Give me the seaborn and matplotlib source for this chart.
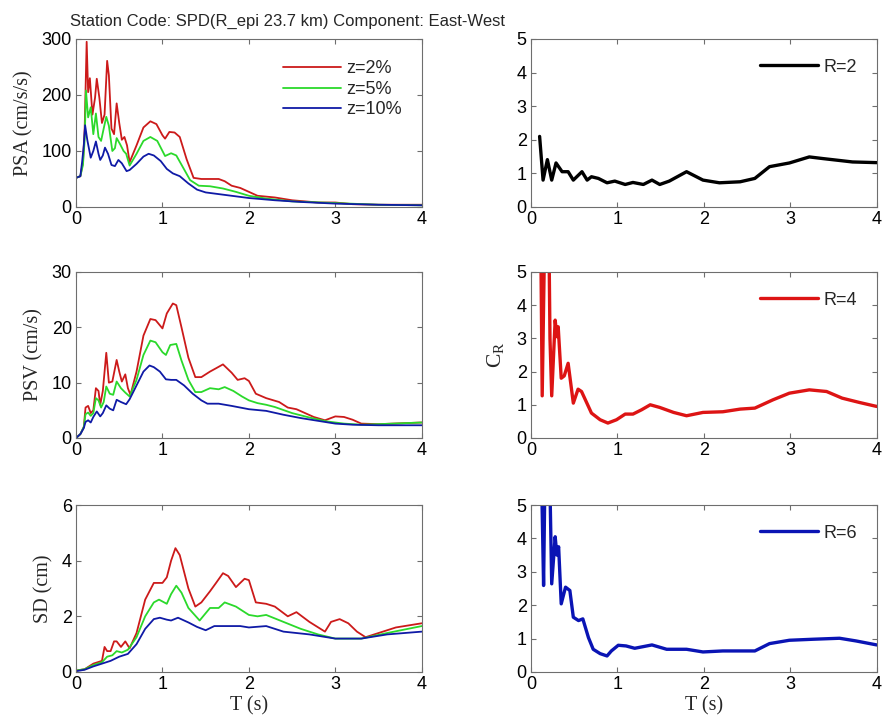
import numpy as np
import pandas as pd
import matplotlib
matplotlib.use('Agg')
import matplotlib.pyplot as plt
import seaborn as sns

# ---- data ----
# PSA (cm/s/s)
psa2_t = [0, 0.05, 0.08, 0.10, 0.123, 0.14, 0.16, 0.19, 0.22, 0.24, 0.27, 0.30, 0.33, 0.36, 0.38, 0.41, 0.44, 0.47, 0.50, 0.53,
          0.56, 0.59, 0.62, 0.70, 0.78, 0.86, 0.93, 1.00, 1.03, 1.08, 1.14, 1.20, 1.28, 1.36, 1.45, 1.55, 1.65, 1.72, 1.80, 1.90,
          2.00, 2.10, 2.30, 2.50, 2.80, 3.00, 3.20, 3.50, 4.00]
psa2 = [52, 55, 80, 140, 295, 205, 230, 165, 195, 229, 195, 150, 165, 261, 235, 140, 130, 185, 150, 120,
        125, 110, 80, 110, 142, 153, 148, 128, 122, 134, 133, 125, 85, 52, 50, 50, 50, 46, 38, 34,
        27, 20, 17, 12, 8, 8, 5, 4, 4]
psa5_t = [0, 0.05, 0.08, 0.10, 0.115, 0.14, 0.17, 0.20, 0.23, 0.26, 0.29, 0.32, 0.35, 0.38, 0.42, 0.45, 0.47, 0.51, 0.55, 0.58,
          0.62, 0.70, 0.78, 0.86, 0.94, 1.03, 1.10, 1.16, 1.24, 1.32, 1.42, 1.55, 1.70, 1.85, 2.00, 2.20, 2.50, 3.00, 3.50, 4.00]
psa5 = [52, 55, 75, 120, 208, 160, 178, 130, 167, 125, 118, 140, 161, 145, 100, 105, 123, 112, 100, 95,
        74, 95, 118, 125, 118, 91, 96, 92, 70, 48, 38, 37, 33, 27, 20, 15, 10, 7, 4, 3]
psa10_t = [0, 0.05, 0.07, 0.09, 0.105, 0.13, 0.17, 0.20, 0.23, 0.26, 0.28, 0.31, 0.335, 0.37, 0.41, 0.45, 0.49, 0.53, 0.585,
           0.62, 0.70, 0.78, 0.84, 0.90, 0.98, 1.05, 1.12, 1.20, 1.30, 1.40, 1.50, 1.70, 2.00, 2.30, 2.60, 3.00, 3.50, 4.00]
psa10 = [52, 55, 80, 110, 146, 120, 88, 100, 117, 95, 84, 92, 106, 95, 75, 73, 84, 78, 64,
         66, 77, 90, 95, 92, 82, 68, 60, 55, 42, 31, 26, 22, 16, 12, 9, 6, 4, 3]

# PSV (cm/s)
psv2_t = [0, 0.05, 0.09, 0.11, 0.14, 0.17, 0.20, 0.23, 0.26, 0.28, 0.31, 0.35, 0.38, 0.42, 0.47, 0.50, 0.53, 0.57, 0.60, 0.63,
          0.70, 0.78, 0.86, 0.92, 1.00, 1.05, 1.12, 1.16, 1.22, 1.30, 1.38, 1.45, 1.55, 1.62, 1.70, 1.80, 1.87, 1.95, 2.00, 2.08,
          2.20, 2.35, 2.45, 2.55, 2.65, 2.75, 2.88, 3.00, 3.10, 3.20, 3.30, 3.50, 4.00]
psv2 = [0, 0.7, 2.0, 5.5, 5.8, 4.5, 5.0, 9.0, 8.5, 6.0, 8.5, 15.4, 10.0, 10.2, 14.1, 12.0, 10.2, 11.5, 9.0, 7.8,
        12.0, 18.5, 21.5, 21.3, 19.8, 22.5, 24.3, 24.0, 20.0, 14.5, 11.0, 11.0, 12.0, 12.6, 13.3, 11.8, 10.5, 10.8, 10.3, 8.0,
        7.2, 6.5, 5.5, 5.2, 4.5, 3.8, 3.2, 3.9, 3.8, 3.3, 2.6, 2.5, 2.8]
psv5_t = [0, 0.05, 0.09, 0.11, 0.14, 0.17, 0.20, 0.23, 0.26, 0.29, 0.32, 0.35, 0.39, 0.43, 0.47, 0.52, 0.57, 0.62, 0.70, 0.78,
          0.86, 0.92, 1.00, 1.04, 1.09, 1.16, 1.22, 1.30, 1.38, 1.45, 1.55, 1.65, 1.72, 1.82, 1.92, 2.00, 2.10, 2.20, 2.30, 2.50,
          2.70, 2.90, 3.10, 3.30, 3.50, 4.00]
psv5 = [0, 0.7, 2.0, 4.3, 4.6, 4.0, 4.5, 7.2, 6.8, 5.5, 6.5, 9.3, 8.0, 7.8, 10.2, 9.0, 8.2, 7.5, 10.5, 15.0,
        17.6, 17.3, 15.5, 15.0, 16.8, 17.0, 14.0, 10.5, 8.3, 8.3, 9.0, 8.8, 9.2, 8.5, 7.5, 6.8, 6.3, 6.0, 5.6, 4.5,
        3.7, 3.0, 2.6, 2.4, 2.5, 2.8]
psv10_t = [0, 0.05, 0.09, 0.11, 0.14, 0.17, 0.20, 0.24, 0.28, 0.31, 0.35, 0.39, 0.43, 0.47, 0.52, 0.58, 0.62, 0.70, 0.78, 0.85,
           0.90, 0.97, 1.04, 1.10, 1.16, 1.25, 1.35, 1.45, 1.52, 1.65, 1.80, 2.00, 2.20, 2.40, 2.60, 2.80, 3.00, 3.20, 3.50, 4.00]
psv10 = [0, 0.7, 1.8, 2.9, 3.2, 2.8, 3.8, 4.8, 3.9, 4.5, 5.9, 5.3, 5.0, 6.9, 6.5, 6.1, 7.0, 9.5, 12.0, 13.1,
         12.8, 12.0, 10.6, 10.5, 10.5, 9.5, 8.0, 6.8, 6.2, 6.2, 5.8, 5.2, 4.9, 4.2, 3.6, 3.1, 2.6, 2.4, 2.3, 2.3]

# SD (cm)
sd2_t = [0, 0.10, 0.20, 0.30, 0.33, 0.36, 0.40, 0.44, 0.47, 0.52, 0.57, 0.62, 0.70, 0.80, 0.90, 1.00, 1.05, 1.10, 1.15, 1.20,
         1.30, 1.38, 1.45, 1.55, 1.62, 1.70, 1.76, 1.85, 1.95, 2.00, 2.08, 2.20, 2.30, 2.45, 2.55, 2.70, 2.88, 2.95, 3.05, 3.15,
         3.25, 3.35, 3.50, 3.70, 4.00]
sd2 = [0.05, 0.1, 0.3, 0.4, 0.9, 0.75, 0.75, 1.1, 1.1, 0.9, 1.1, 0.85, 1.4, 2.6, 3.2, 3.2, 3.4, 4.0, 4.45, 4.2,
       3.0, 2.35, 2.5, 2.9, 3.2, 3.55, 3.45, 3.05, 3.35, 3.3, 2.5, 2.45, 2.35, 2.0, 2.15, 1.8, 1.45, 1.8, 1.9, 1.75,
       1.45, 1.25, 1.4, 1.6, 1.75]
sd5_t = [0, 0.10, 0.20, 0.30, 0.36, 0.42, 0.47, 0.53, 0.60, 0.70, 0.80, 0.90, 0.96, 1.05, 1.10, 1.16, 1.22, 1.30, 1.43, 1.55,
         1.65, 1.72, 1.85, 2.00, 2.10, 2.20, 2.40, 2.60, 2.80, 3.00, 3.30, 3.60, 4.00]
sd5 = [0.05, 0.1, 0.25, 0.35, 0.55, 0.6, 0.75, 0.7, 0.8, 1.25, 2.0, 2.5, 2.6, 2.45, 2.8, 3.1, 2.85, 2.3, 1.85, 2.3,
       2.3, 2.5, 2.35, 2.05, 2.0, 2.05, 1.8, 1.55, 1.35, 1.2, 1.2, 1.4, 1.65]
sd10_t = [0, 0.10, 0.20, 0.30, 0.40, 0.50, 0.60, 0.70, 0.80, 0.90, 0.97, 1.05, 1.10, 1.18, 1.30, 1.40, 1.50, 1.60, 1.80, 1.90,
          2.00, 2.20, 2.40, 2.70, 3.00, 3.30, 3.60, 4.00]
sd10 = [0.03, 0.08, 0.2, 0.3, 0.4, 0.55, 0.65, 1.0, 1.55, 1.9, 1.95, 1.88, 1.85, 1.95, 1.78, 1.62, 1.5, 1.65, 1.65, 1.65,
        1.6, 1.65, 1.45, 1.35, 1.2, 1.2, 1.35, 1.45]

# C_R for R = 2, 4, 6
r2_t = [0.10, 0.14, 0.19, 0.24, 0.29, 0.36, 0.43, 0.49, 0.59, 0.65, 0.70, 0.78, 0.88, 0.97, 1.09, 1.18, 1.30, 1.40, 1.49, 1.60,
        1.80, 1.99, 2.18, 2.42, 2.59, 2.76, 2.99, 3.22, 3.38, 3.72, 4.00]
r2 = [2.1, 0.8, 1.41, 0.8, 1.31, 1.05, 1.05, 0.8, 1.05, 0.8, 0.9, 0.85, 0.72, 0.77, 0.67, 0.73, 0.67, 0.8, 0.67, 0.77,
      1.05, 0.8, 0.72, 0.75, 0.85, 1.2, 1.31, 1.49, 1.44, 1.34, 1.32]
r4_t = [0.115, 0.13, 0.155, 0.18, 0.21, 0.22, 0.24, 0.28, 0.30, 0.315, 0.35, 0.385, 0.43, 0.49, 0.545, 0.585, 0.70, 0.80, 0.89, 0.99,
        1.09, 1.18, 1.28, 1.38, 1.49, 1.65, 1.80, 1.99, 2.22, 2.42, 2.59, 2.80, 2.99, 3.22, 3.42, 3.60, 3.80, 4.00]
r4 = [5.5, 1.27, 5.5, 6.0, 5.5, 3.0, 1.27, 3.55, 3.05, 3.35, 1.8, 1.87, 2.25, 1.05, 1.47, 1.4, 0.75, 0.55, 0.45, 0.55,
      0.72, 0.72, 0.85, 1.0, 0.92, 0.77, 0.67, 0.77, 0.79, 0.87, 0.9, 1.15, 1.35, 1.45, 1.4, 1.2, 1.07, 0.95]
r6_t = [0.125, 0.146, 0.16, 0.19, 0.22, 0.24, 0.28, 0.30, 0.32, 0.35, 0.40, 0.45, 0.49, 0.55, 0.60, 0.665, 0.72, 0.80, 0.88, 0.93,
        1.01, 1.10, 1.20, 1.30, 1.40, 1.57, 1.80, 1.99, 2.22, 2.59, 2.76, 2.99, 3.26, 3.57, 3.76, 4.00]
r6 = [5.5, 2.59, 5.5, 6.0, 5.5, 2.64, 4.05, 3.5, 3.75, 2.04, 2.54, 2.44, 1.64, 1.54, 1.59, 1.03, 0.68, 0.55, 0.48, 0.63,
      0.8, 0.78, 0.71, 0.76, 0.81, 0.68, 0.68, 0.6, 0.63, 0.63, 0.85, 0.95, 0.98, 1.01, 0.93, 0.81]

z_labels = ['z=2%', 'z=5%', 'z=10%']
z_colors = ['#cc1a1a', '#2bd92b', '#0f1aa6']
title = 'Station Code: SPD(R_epi 23.7 km) Component: East-West'

# ---- style ----
sns.set_style('ticks', {'xtick.direction': 'in', 'ytick.direction': 'in',
                        'axes.edgecolor': '#6e6e6e'})
plt.rcParams['font.family'] = ['Liberation Sans', 'DejaVu Sans']
plt.rcParams['xtick.top'] = True
plt.rcParams['ytick.right'] = True
plt.rcParams['xtick.major.size'] = 3.5
plt.rcParams['ytick.major.size'] = 3.5
plt.rcParams['xtick.color'] = '#6e6e6e'
plt.rcParams['ytick.color'] = '#6e6e6e'
plt.rcParams['xtick.labelcolor'] = 'black'
plt.rcParams['ytick.labelcolor'] = 'black'
plt.rcParams['mathtext.fontset'] = 'custom'
plt.rcParams['mathtext.rm'] = 'Liberation Serif'

fig = plt.figure(figsize=(8.82, 7.26), dpi=100)
lx, rx, w = 0.0862, 0.602, 0.392
rows = [(0.7149, 0.2314), (0.3967, 0.2287), (0.0744, 0.2300)]

serif = 'Liberation Serif'


def long_frame(ts, vs):
    parts = [pd.DataFrame({'T': t, 'val': v, 'z': lab}) for t, v, lab in zip(ts, vs, z_labels)]
    return pd.concat(parts, ignore_index=True)


left_sets = [
    ([psa2_t, psa5_t, psa10_t], [psa2, psa5, psa10], 'PSA (cm/s/s)', 300, [0, 100, 200, 300]),
    ([psv2_t, psv5_t, psv10_t], [psv2, psv5, psv10], 'PSV (cm/s)', 30, [0, 10, 20, 30]),
    ([sd2_t, sd5_t, sd10_t], [sd2, sd5, sd10], 'SD (cm)', 6, [0, 2, 4, 6]),
]

for i, (ts, vs, ylab, ymax, yt) in enumerate(left_sets):
    b, h = rows[i]
    ax = fig.add_axes([lx, b, w, h])
    df = long_frame(ts, vs)
    sns.lineplot(data=df, x='T', y='val', hue='z', hue_order=z_labels, palette=z_colors,
                 estimator=None, sort=False, linewidth=1.3, ax=ax, legend=(i == 0))
    ax.set_xlim(0, 4)
    ax.set_ylim(0, ymax)
    ax.set_xticks([0, 1, 2, 3, 4])
    ax.set_yticks(yt)
    ax.tick_params(labelsize=13, pad=3)
    ax.set_ylabel(ylab, fontsize=14.5, family=serif, labelpad=6)
    ax.set_xlabel('T (s)' if i == 2 else '', fontsize=14.5, family=serif, labelpad=2)
    if i == 0:
        sns.move_legend(ax, 'upper right', bbox_to_anchor=(0.99, 0.97), frameon=False, title=None,
                        fontsize=13, handlelength=3.2, handletextpad=0.3, labelspacing=0.2)

right_sets = [
    (r2_t, r2, 'R=2', 'black'),
    (r4_t, r4, 'R=4', '#dd1414'),
    (r6_t, r6, 'R=6', '#0a14b4'),
]

for i, (t, v, lab, col) in enumerate(right_sets):
    b, h = rows[i]
    ax = fig.add_axes([rx, b, w, h])
    sns.lineplot(x=t, y=v, color=col, linewidth=2.4, estimator=None, sort=False, label=lab, ax=ax)
    ax.set_xlim(0, 4)
    ax.set_ylim(0, 5)
    ax.set_xticks([0, 1, 2, 3, 4])
    ax.set_yticks([0, 1, 2, 3, 4, 5])
    ax.tick_params(labelsize=13, pad=3)
    ax.legend(loc='upper right', bbox_to_anchor=(0.99, 0.98), frameon=False, fontsize=13,
              handlelength=3.2, handletextpad=0.3)
    ax.set_ylabel(r'$\mathrm{C_R}$' if i == 1 else '', fontsize=15.5, labelpad=8)
    ax.set_xlabel('T (s)' if i == 2 else '', fontsize=14.5, family=serif, labelpad=2)

fig.text(0.079, 0.971, title, fontsize=12, va='center', ha='left')

fig.savefig('out.png', dpi=100)
